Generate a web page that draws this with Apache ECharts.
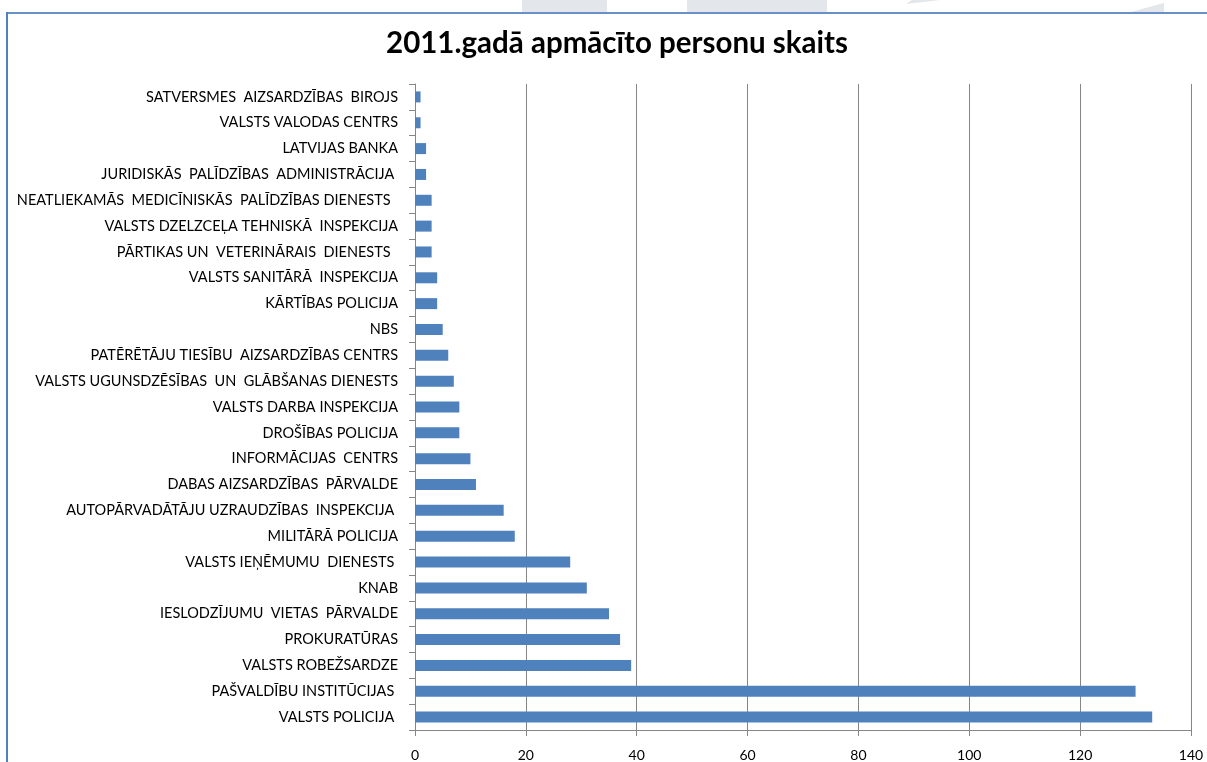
<!DOCTYPE html>
<html lang="lv">
<head>
<meta charset="utf-8">
<title>2011.gadā apmācīto personu skaits</title>
<style>
  * { padding: 0; margin: 0; }
  html, body { width: 100%; height: 100%; background: #fff; }
  #chart { width: 1207px; height: 762px; }
</style>
</head>
<body>
<div id="chart"></div>
<script src="https://cdn.jsdelivr.net/npm/echarts@6/dist/echarts.min.js"></script>
<script>
// iestādes, no augšas uz leju
var categories = [
  'SATVERSMES  AIZSARDZĪBAS  BIROJS',
  'VALSTS VALODAS CENTRS',
  'LATVIJAS BANKA',
  'JURIDISKĀS  PALĪDZĪBAS  ADMINISTRĀCIJA ',
  'NEATLIEKAMĀS  MEDICĪNISKĀS  PALĪDZĪBAS DIENESTS  ',
  'VALSTS DZELZCEĻA TEHNISKĀ  INSPEKCIJA',
  'PĀRTIKAS UN  VETERINĀRAIS  DIENESTS  ',
  'VALSTS SANITĀRĀ  INSPEKCIJA',
  'KĀRTĪBAS POLICIJA',
  'NBS',
  'PATĒRĒTĀJU TIESĪBU  AIZSARDZĪBAS CENTRS',
  'VALSTS UGUNSDZĒSĪBAS  UN  GLĀBŠANAS DIENESTS',
  'VALSTS DARBA INSPEKCIJA',
  'DROŠĪBAS POLICIJA',
  'INFORMĀCIJAS  CENTRS',
  'DABAS AIZSARDZĪBAS  PĀRVALDE',
  'AUTOPĀRVADĀTĀJU UZRAUDZĪBAS  INSPEKCIJA ',
  'MILITĀRĀ POLICIJA',
  'VALSTS IEŅĒMUMU  DIENESTS ',
  'KNAB',
  'IESLODZĪJUMU  VIETAS  PĀRVALDE',
  'PROKURATŪRAS',
  'VALSTS ROBEŽSARDZE',
  'PAŠVALDĪBU INSTITŪCIJAS ',
  'VALSTS POLICIJA '
];
var persons = [1, 1, 2, 2, 3, 3, 3, 4, 4, 5, 6, 7, 8, 8, 10, 11, 16, 18, 28, 31, 35, 37, 39, 130, 133];
var xTicks = [0, 20, 40, 60, 80, 100, 120, 140];

var chart = echarts.init(document.getElementById('chart'));
var gray = '#868686';

var option = {
  backgroundColor: '#fff',
  animation: false,
  title: {
    text: '2011.gadā apmācīto personu skaits',
    left: 612,
    top: 23,
    textAlign: 'center',
    textStyle: { fontFamily: 'Lato', fontWeight: 'bold', fontSize: 29.5, color: '#000' }
  },
  graphic: [
    // fona rotājumi virs rāmja
    { type: 'rect', shape: { x: 522, y: 0, width: 85, height: 12 }, style: { fill: '#e3e6ea' }, silent: true },
    { type: 'rect', shape: { x: 687, y: 0, width: 140, height: 12 }, style: { fill: '#e3e6ea' }, silent: true },
    { type: 'polygon', shape: { points: [[906, 4], [940, 0], [912, 0]] }, style: { fill: '#e3e6ea' }, silent: true },
    { type: 'polygon', shape: { points: [[1131, 12], [1164, 3], [1164, 12]] }, style: { fill: '#e3e6ea' }, silent: true },
    // rāmis
    { type: 'line', shape: { x1: 6, y1: 13, x2: 1207, y2: 13 }, style: { stroke: '#6a90c8', lineWidth: 2 }, silent: true },
    { type: 'line', shape: { x1: 7, y1: 12, x2: 7, y2: 762 }, style: { stroke: '#4f81bd', lineWidth: 2 }, silent: true }
  ],
  grid: { left: 415, right: 16, top: 84, bottom: 30 },
  xAxis: {
    type: 'value',
    min: xTicks[0],
    max: xTicks[xTicks.length - 1],
    interval: 20,
    axisLine: { show: true, lineStyle: { color: gray } },
    axisTick: { show: true, length: 6, lineStyle: { color: gray } },
    splitLine: { show: true, lineStyle: { color: gray, width: 1 } },
    axisLabel: { margin: 18, fontFamily: 'Lato', fontSize: 14, color: '#000' }
  },
  yAxis: {
    type: 'category',
    inverse: true,
    data: categories,
    axisLine: { show: true, lineStyle: { color: gray } },
    axisTick: { show: true, length: 6, lineStyle: { color: gray } },
    axisLabel: { margin: 17, fontFamily: 'Lato', fontSize: 14.5, color: '#000', interval: 0 }
  },
  series: [{
    type: 'bar',
    data: persons,
    barWidth: 11,
    itemStyle: { color: '#4f81bd' }
  }]
};

chart.setOption(option);
</script>
</body>
</html>
